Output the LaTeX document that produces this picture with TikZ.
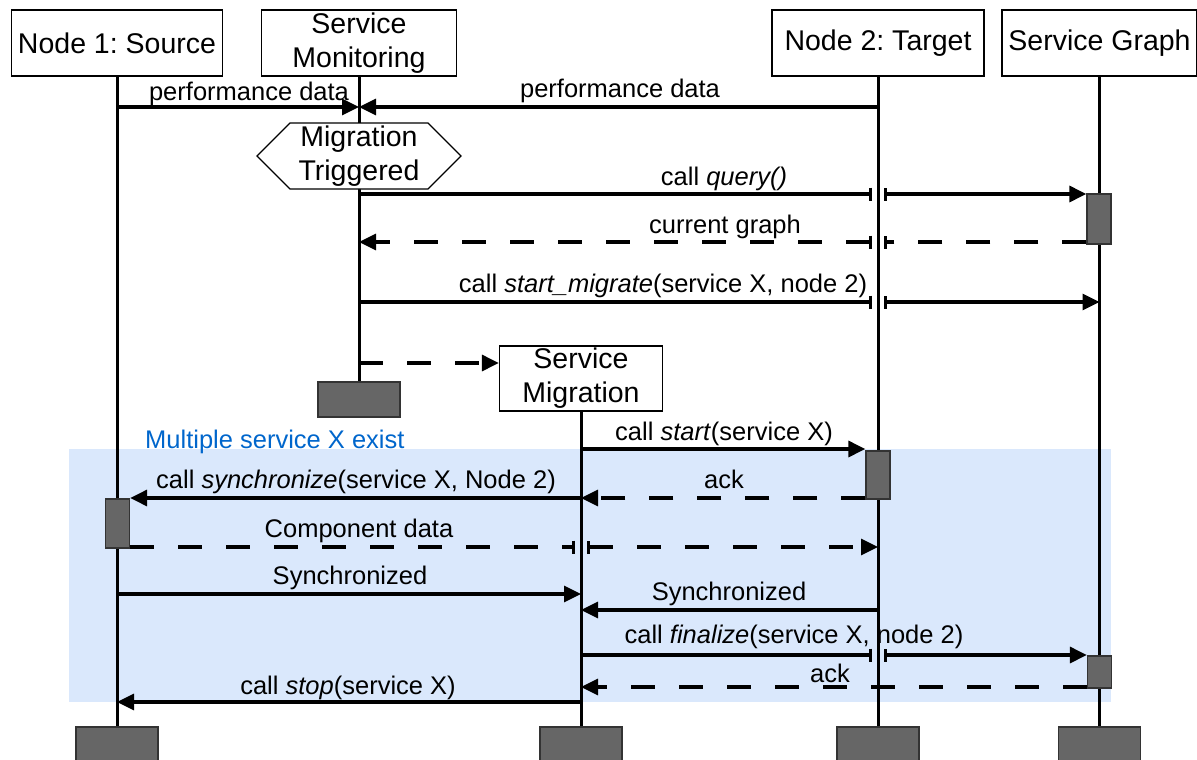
\documentclass[tikz,border=0pt]{standalone}
\usepackage{fontspec}
\setmainfont{Liberation Sans}
\usetikzlibrary{arrows.meta,shapes.symbols}
\definecolor{actgray}{HTML}{666666}
\definecolor{zoneblue}{HTML}{DAE8FC}
\definecolor{notetext}{HTML}{0066CC}
\frenchspacing

\begin{document}
\begin{tikzpicture}[x=1pt,y=-1pt,
    header/.style ={draw, line width=1.3pt, fill=white, align=center, inner sep=0pt,
      minimum height=66pt, font=\fontsize{28.5}{34}\selectfont},
    trigger/.style ={header, signal, signal to=east and west, signal pointer angle=90,
      minimum width=204pt},
    activation/.style ={draw=black!80, line width=1.3pt, fill=actgray, inner sep=0pt,
      minimum width=24pt},
    lifeend/.style ={activation, minimum width=82pt, minimum height=35pt},
    lifeline/.style ={line width=3pt},
    msg/.style ={line width=3.2pt, -{Triangle[length=17pt,width=16pt]}},
    reply/.style ={msg, dash pattern=on 24pt off 24pt},
    cutin/.style ={line width=3.2pt, -{Bar[width=13pt,line width=2.8pt]}},
    cutout/.style ={line width=3.2pt,
      {Bar[width=13pt,line width=2.8pt]}-{Triangle[length=17pt,width=16pt]}},
    dashed cut/.style ={dash pattern=on 24pt off 24pt},
    msgtext/.style ={anchor=base, inner sep=0pt, font=\fontsize{25.5}{30}\selectfont}]
   \useasboundingbox (0,0) rectangle (1197,760);
   \fill[zoneblue] (69,449) rectangle (1111,702);
   \node[msgtext, anchor=base west, text=notetext] (multi) at (145,448) {Multiple service X exist};

   % lifelines
   \node[header, minimum width=211pt] (src) at (117,43) {Node 1: Source};
   \node[header, minimum width=195pt] (mon) at (359,43) {Service\\Monitoring};
   \node[header, minimum width=212pt] (tgt) at (878,43) {Node 2: Target};
   \node[header, minimum width=195pt] (graph) at (1099.5,43) {Service Graph};
   \node[header, minimum width=163pt, minimum height=65pt] (mig) at (581,378.5) {Service\\Migration};

   \node[lifeend] (srcend) at (117,744.5) {};
   \node[lifeend] (monend) at (359,399.5) {};
   \node[lifeend] (migend) at (581,744.5) {};
   \node[lifeend] (tgtend) at (878,744.5) {};
   \node[lifeend] (graphend) at (1099.5,744.5) {};

   \draw[lifeline] (src) to (srcend);
   \draw[lifeline] (mon) to (monend);
   \draw[lifeline] (mig) to (migend);
   \draw[lifeline] (tgt) to (tgtend);
   \draw[lifeline] (graph) to (graphend);

   \node[trigger] (trig) at (359,156) {Migration\\Triggered};

   \node[activation, minimum height=50pt] (gact1) at (1099,219) {};
   \node[activation, minimum height=48pt] (tact) at (878,475) {};
   \node[activation, minimum height=49pt] (sact) at (117.5,523.5) {};
   \node[activation, minimum height=32pt] (gact2) at (1099.5,672) {};

   % message rows
   \coordinate (r1) at (0,107);
   \coordinate (r2) at (0,194);
   \coordinate (r3) at (0,242);
   \coordinate (r4) at (0,302);
   \coordinate (r5) at (0,363);
   \coordinate (r6) at (0,449);
   \coordinate (r7) at (0,498);
   \coordinate (r8) at (0,547);
   \coordinate (r9) at (0,594);
   \coordinate (r10) at (0,610);
   \coordinate (r11) at (0,655);
   \coordinate (r12) at (0,687);
   \coordinate (r13) at (0,702);

   \draw[msg] (src |- r1) to (mon |- r1);
   \draw[msg] (tgt |- r1) to (mon |- r1);
   \node[msgtext] (perf1) at (249,100) {performance data};
   \node[msgtext] (perf2) at (620,97) {performance data};

   \draw[cutin] (mon |- r2) to ([xshift=-6pt]tgt |- r2);
   \draw[cutout] ([xshift=6pt]tgt |- r2) to (gact1.west |- r2);
   \node[msgtext] (query) at (724,185) {call \textit{query()}};

   \draw[cutin, dashed cut] (gact1.west |- r3) to ([xshift=6pt]tgt |- r3);
   \draw[cutout, dashed cut] ([xshift=-6pt]tgt |- r3) to (mon |- r3);
   \node[msgtext] (graphtext) at (725,233) {current graph};

   \draw[cutin] (mon |- r4) to ([xshift=-6pt]tgt |- r4);
   \draw[cutout] ([xshift=6pt]tgt |- r4) to (graph |- r4);
   \node[msgtext] (startmig) at (663,292) {call \textit{start\_migrate}(service X, node 2)};

   \draw[reply] (mon |- r5) to (mig.west |- r5);

   \draw[msg] (mig |- r6) to (tact.west |- r6);
   \node[msgtext] (start) at (724,440) {call \textit{start}(service X)};

   \draw[msg] (mig |- r7) to (sact.east |- r7);
   \node[msgtext] (sync) at (356,488) {call \textit{synchronize}(service X, Node 2)};
   \draw[reply] (tact.west |- r7) to (mig |- r7);
   \node[msgtext] (ack1) at (724,488) {ack};

   \draw[cutin, dashed cut] (sact.east |- r8) to ([xshift=-6pt]mig |- r8);
   \draw[cutout, dashed cut] ([xshift=6pt]mig |- r8) to (tgt |- r8);
   \node[msgtext] (comp) at (359,537) {Component data};

   \draw[msg] (src |- r9) to (mig |- r9);
   \node[msgtext] (synced1) at (350,584) {Synchronized};
   \draw[msg] (tgt |- r10) to (mig |- r10);
   \node[msgtext] (synced2) at (729,600) {Synchronized};

   \draw[cutin] (mig |- r11) to ([xshift=-6pt]tgt |- r11);
   \draw[cutout] ([xshift=6pt]tgt |- r11) to (gact2.west |- r11);
   \node[msgtext] (final) at (794,643) {call \textit{finalize}(service X, node 2)};

   \draw[reply] (gact2.west |- r12) to (mig |- r12);
   \node[msgtext] (ack2) at (830,682) {ack};

   \draw[msg] (mig |- r13) to (src |- r13);
   \node[msgtext] (stop) at (348,694) {call \textit{stop}(service X)};
 \end{tikzpicture}
\end{document}
